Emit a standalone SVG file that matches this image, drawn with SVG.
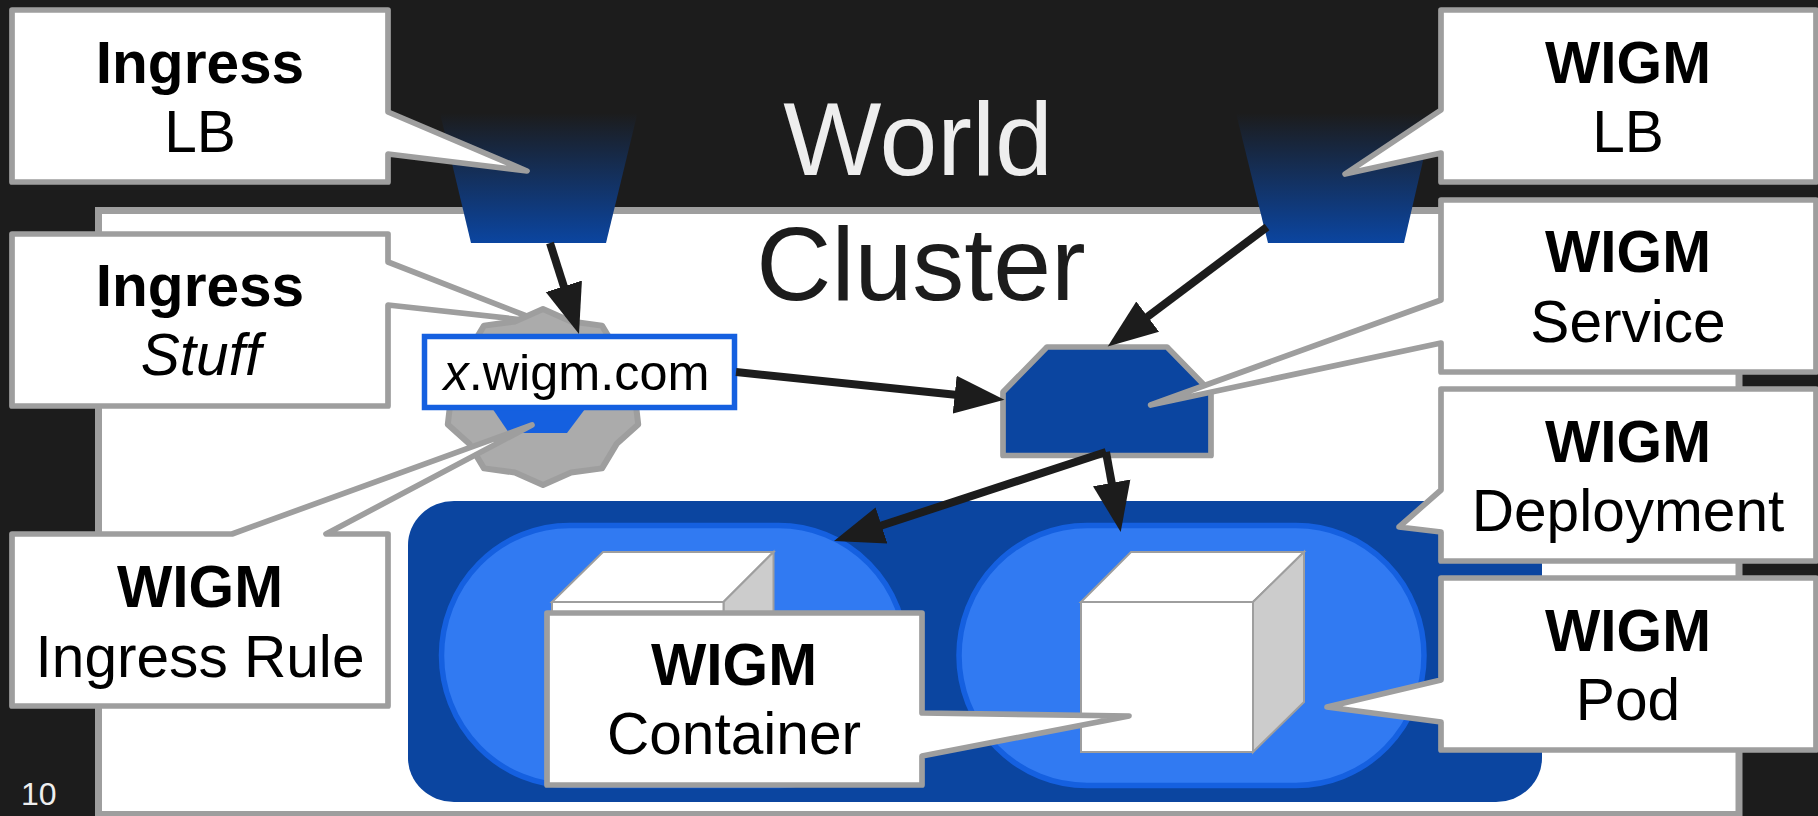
<svg xmlns="http://www.w3.org/2000/svg" width="1818" height="816" viewBox="0 0 1818 816">
<style>
text{font-family:"Liberation Sans",Arial,sans-serif}
.call{fill:#fff;stroke:#9e9e9e;stroke-width:5.7;stroke-linejoin:round}
.t{font-size:58.6px;fill:#000;text-anchor:middle}
.b{font-weight:700}
.big{font-size:104px;text-anchor:middle}
.lb{fill:url(#fade)}
.pod{fill:#317af2;stroke:#1560e0;stroke-width:5.5}
.cf{fill:#fff;stroke:#9e9e9e;stroke-width:2}
.cs{fill:#ccc;stroke:#9e9e9e;stroke-width:2}
.arr{fill:none;stroke:#1c1c1c;stroke-width:8;marker-end:url(#ah)}
</style>
<defs>
<linearGradient id="fade" x1="0" y1="0" x2="0" y2="1">
<stop offset="0" stop-color="#1c1c1c"/>
<stop offset="1" stop-color="#0b45a0"/>
</linearGradient>
<marker id="ah" markerUnits="userSpaceOnUse" markerWidth="54" markerHeight="40" refX="20" refY="19" orient="auto" viewBox="0 0 54 38">
<path d="M0,0L50,19L0,38z" fill="#1c1c1c"/>
</marker>
</defs>
<rect width="1818" height="816" fill="#1c1c1c"/>
<text id="world" class="big" x="918" y="175" fill="#eee">World</text>
<g id="cluster">
<rect x="98.5" y="210.5" width="1640.5" height="604" fill="#fff" stroke="#9e9e9e" stroke-width="7"/>
<text class="big" x="921" y="300" fill="#1c1c1c">Cluster</text>
</g>
<g id="ingress-lb"><path class="lb" d="M440,113H637.5L606,243H471z"/></g>
<g id="wigm-lb"><path class="lb" d="M1236,113H1434L1404,243H1268z"/></g>
<g id="callout-ingress-stuff">
<path class="call" d="M12,234H388V262L542,322L388,305V406H12z"/>
<text class="t b" x="200" y="306">Ingress</text>
<text class="t" x="201" y="375" font-style="italic">Stuff</text>
</g>
<g id="gear">
<path d="M543,309L571.1,321.5L602,325.6L617,350.6L638.2,369.6L635,397L638.2,424.4L617,443.4L602,468.4L571.1,472.5L543,485L514.9,472.5L484,468.4L469,443.4L447.8,424.4L451,397L447.8,369.6L469,350.6L484,325.6L514.9,321.5z" fill="#ababab" stroke="#9e9e9e" stroke-width="6" stroke-linejoin="round"/>
</g>
<g id="ingress-rule"><path d="M490,405H588L567,433H509z" fill="#1560e0"/></g>
<g id="host">
<rect x="424.5" y="336.5" width="310" height="71" fill="#fff" stroke="#1560e0" stroke-width="5.5"/>
<text x="443.5" y="390" font-size="50.4" fill="#000"><tspan font-style="italic">x</tspan>.wigm.com</text>
</g>
<g id="service">
<path d="M1047,347H1167L1211,392V455.5H1003V392z" fill="#0b45a0" stroke="#9e9e9e" stroke-width="5.7" stroke-linejoin="round"/>
</g>
<g id="deployment"><rect x="408" y="501" width="1134" height="301" rx="46" ry="44" fill="#0b45a0"/></g>
<g id="pod-left">
<rect x="441.5" y="525.5" width="465" height="260" rx="128" ry="130" class="pod"/>
<path class="cf" d="M552,602L603,552H773.5L723.5,602z"/>
<path class="cs" d="M723.5,602L773.5,552V702L723.5,752z"/>
<rect class="cf" x="552" y="602" width="171.5" height="150"/>
</g>
<g id="pod-right">
<rect x="959" y="525.5" width="465" height="260" rx="128" ry="130" class="pod"/>
<path class="cf" d="M1081,602L1131,552H1304L1253,602z"/>
<path class="cs" d="M1253,602L1304,552V702L1253,752z"/>
<rect class="cf" x="1081" y="602" width="172" height="150"/>
</g>
<g id="connectors">
<path class="arr" d="M550,243L569.9,305.4"/>
<path class="arr" d="M1267,227L1131.7,328.6"/>
<path class="arr" d="M736,372L974.6,396.7"/>
<path class="arr" d="M1106,452L862.5,531.7"/>
<path class="arr" d="M1106,452L1115.3,502.5"/>
</g>
<g id="callout-ingress-lb">
<path class="call" d="M12,10H388V112L527,171L388,154V182H12z"/>
<text class="t b" x="200" y="83">Ingress</text>
<text class="t" x="200" y="152">LB</text>
</g>
<g id="callout-ingress-rule">
<path class="call" d="M12,534H232L532,425L326,534H388V706H12z"/>
<text class="t b" x="200" y="607">WIGM</text>
<text class="t" x="200" y="677">Ingress Rule</text>
</g>
<g id="callout-container">
<path class="call" d="M547,613H922V713L1129,716L922,756V785H547z"/>
<text class="t b" x="734" y="685">WIGM</text>
<text class="t" x="734" y="754">Container</text>
</g>
<g id="callout-wigm-lb">
<path class="call" d="M1441,10H1816V182H1441V153L1345,174L1441,110z"/>
<text class="t b" x="1628" y="83">WIGM</text>
<text class="t" x="1628" y="152">LB</text>
</g>
<g id="callout-service">
<path class="call" d="M1441,200H1816V372H1441V343L1150.6,405L1441,300z"/>
<text class="t b" x="1628" y="272">WIGM</text>
<text class="t" x="1628" y="342">Service</text>
</g>
<g id="callout-deployment">
<path class="call" d="M1441,389H1816V561H1441V532L1399,527L1441,490z"/>
<text class="t b" x="1628" y="462">WIGM</text>
<text class="t" x="1628" y="531">Deployment</text>
</g>
<g id="callout-pod">
<path class="call" d="M1441,578H1816V750H1441V722L1327,707L1441,680z"/>
<text class="t b" x="1628" y="651">WIGM</text>
<text class="t" x="1628" y="720">Pod</text>
</g>
<text id="page" x="21" y="805" font-size="32" fill="#eee">10</text>
</svg>
